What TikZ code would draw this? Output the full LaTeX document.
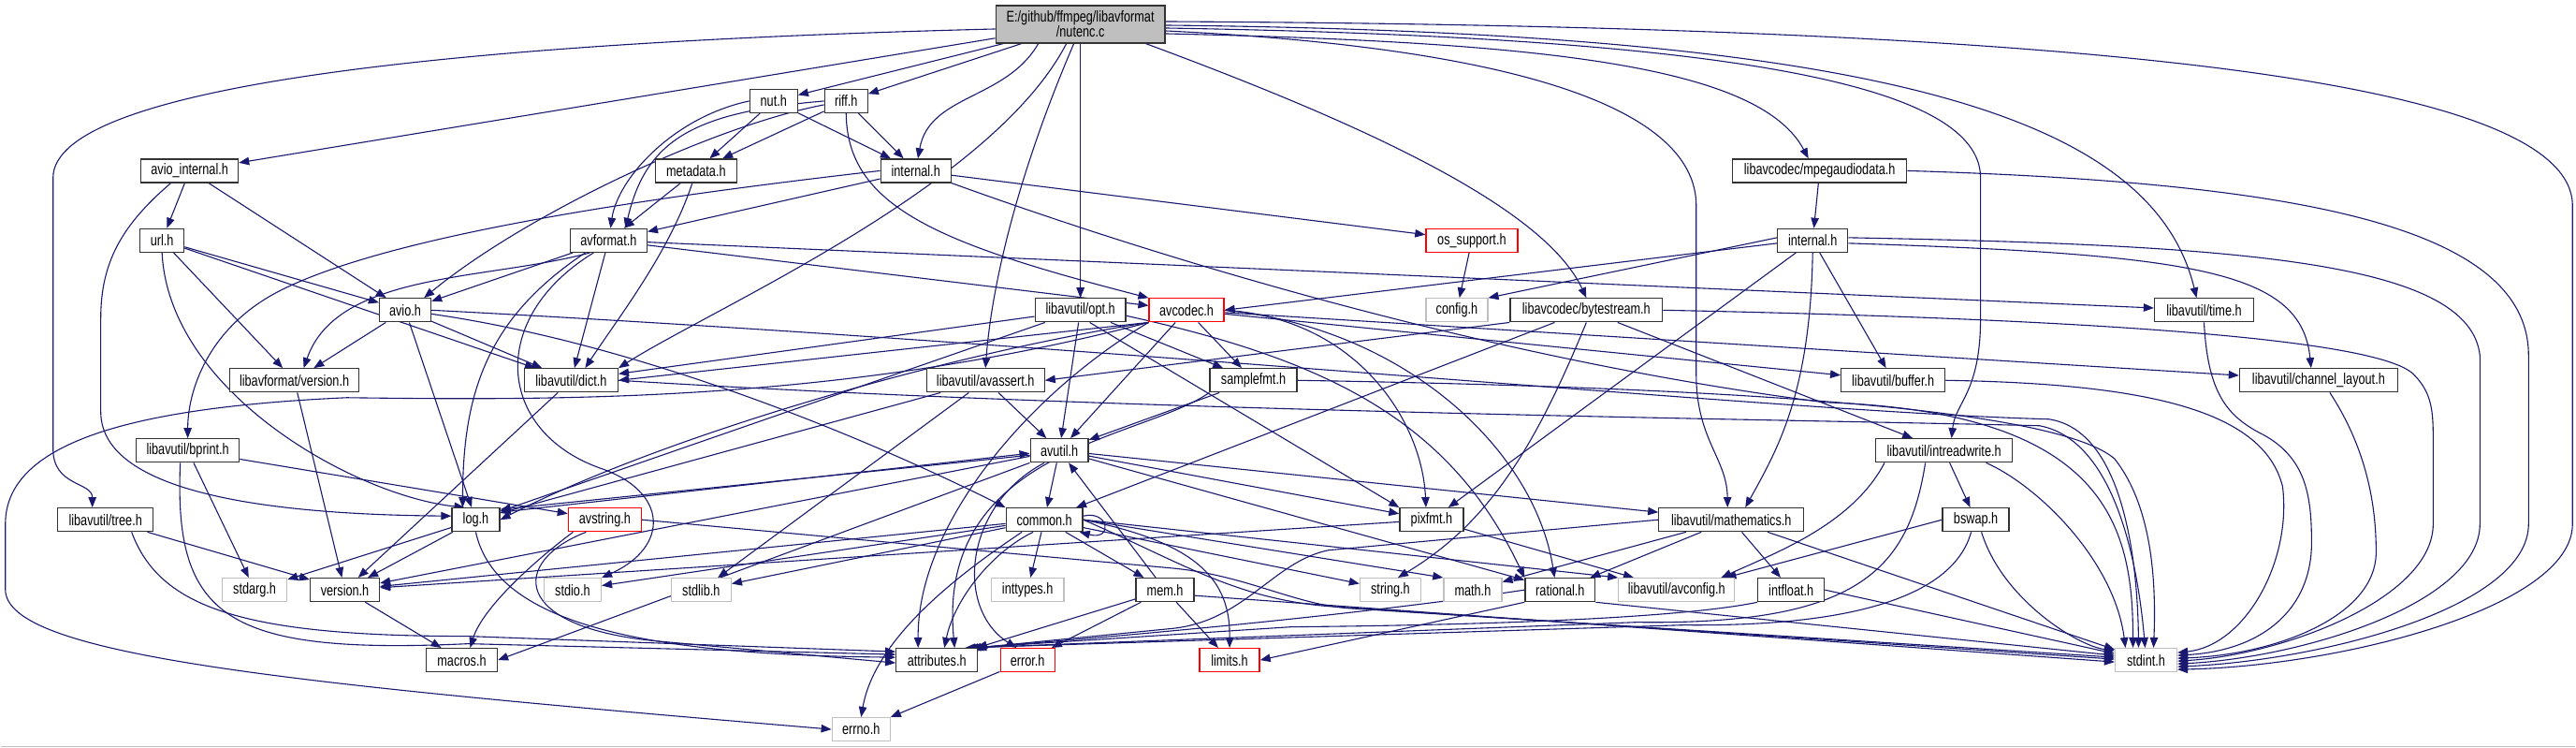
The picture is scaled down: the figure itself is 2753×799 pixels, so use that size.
\documentclass[tikz,border=0pt]{standalone}
\usepackage{fontspec}
\setmainfont{Liberation Sans}[FakeStretch=0.77]
\usetikzlibrary{arrows.meta}
\definecolor{edgec}{RGB}{25,25,112}
\definecolor{greyb}{RGB}{191,191,191}
\pgfdeclarelayer{back}
\pgfdeclarelayer{bg}
\pgfsetlayers{back,bg,main}
\begin{document}
\begin{tikzpicture}[x=1pt,y=-1pt,
  nd/.style={draw=black!80, line width=1.3pt, fill=white, minimum height=25pt, inner sep=0pt, font=\fontsize{16.5}{15.8}\selectfont},
  ndg/.style={nd, draw=greyb},
  ndr/.style={nd, draw=red},
  ed/.style={draw=edgec, line width=1.1pt, -{Triangle[length=11pt,width=8.5pt]}},
]
\begin{pgfonlayer}{back}
\fill[white] (0,0) rectangle (2753,799);
\draw[greyb, line width=1.5pt] (0,798) -- (2753,798);
\end{pgfonlayer}
\useasboundingbox (0,0) rectangle (2753,799);

% ---------------- nodes ----------------
\node[nd, fill=greyb, minimum width=181pt, minimum height=40pt, align=center] (main) at (1154.5,26) {E:/github/ffmpeg/libavformat\\/nutenc.c};
\node[nd, minimum width=104pt] (avioint) at (202,182.5) {avio\_internal.h};
\node[nd, minimum width=51pt] (nut) at (826.5,108) {nut.h};
\node[nd, minimum width=46pt] (riff) at (904,108) {riff.h};
\node[nd, minimum width=87pt] (metadata) at (743.5,182.5) {metadata.h};
\node[nd, minimum width=75pt] (internal) at (978.5,182.5) {internal.h};
\node[nd, minimum width=47pt] (url) at (172.5,257) {url.h};
\node[nd, minimum width=82pt] (avformat) at (650,257) {avformat.h};
\node[ndr, minimum width=98pt] (ossupport) at (1573,257) {os\_support.h};
\node[nd, minimum width=186pt] (mpegaudio) at (1945,182.5) {libavcodec/mpegaudiodata.h};
\node[nd, minimum width=75pt] (cinternal) at (1937.5,257) {internal.h};
\node[nd, minimum width=55pt] (avio) at (432.5,331.5) {avio.h};
\node[nd, minimum width=138pt] (lavfversion) at (314,406.5) {libavformat/version.h};
\node[nd, minimum width=100pt] (dict) at (610,406.5) {libavutil/dict.h};
\node[nd, minimum width=110pt] (bprint) at (200,481.5) {libavutil/bprint.h};
\node[nd, minimum width=97pt] (opt) at (1154.5,331.5) {libavutil/opt.h};
\node[ndr, minimum width=80pt] (avcodec) at (1268,331.5) {avcodec.h};
\node[nd, minimum width=126pt] (avassert) at (1053,406.5) {libavutil/avassert.h};
\node[nd, minimum width=93pt] (samplefmt) at (1339.5,406.5) {samplefmt.h};
\node[nd, minimum width=62pt] (avutil) at (1132,481.5) {avutil.h};
\node[ndg, minimum width=66pt] (config) at (1557,331.5) {config.h};
\node[nd, minimum width=163pt] (bytestream) at (1695.5,331.5) {libavcodec/bytestream.h};
\node[nd, minimum width=111pt] (buffer) at (2023.5,406.5) {libavutil/buffer.h};
\node[nd, minimum width=146pt] (intreadwrite) at (2078,481.5) {libavutil/intreadwrite.h};
\node[nd, minimum width=106pt] (time) at (2356,331.5) {libavutil/time.h};
\node[nd, minimum width=169pt] (chlayout) at (2478.5,406.5) {libavutil/channel\_layout.h};
\node[nd, minimum width=102pt] (tree) at (112,555.5) {libavutil/tree.h};
\node[nd, minimum width=51pt] (log) at (508,555.5) {log.h};
\node[ndr, minimum width=78pt] (avstring) at (646,555.5) {avstring.h};
\node[ndg, minimum width=69pt] (stdarg) at (271.5,630.5) {stdarg.h};
\node[nd, minimum width=74pt] (version) at (368,630.5) {version.h};
\node[ndg, minimum width=61pt] (stdio) at (611.5,630.5) {stdio.h};
\node[nd, minimum width=76pt] (macros) at (493,705.5) {macros.h};
\node[nd, minimum width=82pt] (common) at (1116,555.5) {common.h};
\node[ndg, minimum width=64pt] (stdlib) at (749,630.5) {stdlib.h};
\node[ndg, minimum width=78pt] (inttypes) at (1098,630.5) {inttypes.h};
\node[nd, minimum width=62pt] (mem) at (1245,630.5) {mem.h};
\node[nd, minimum width=87pt] (attributes) at (1001,705.5) {attributes.h};
\node[ndr, minimum width=58pt] (error) at (1098,705.5) {error.h};
\node[ndr, minimum width=64pt] (limits) at (1314,705.5) {limits.h};
\node[ndg, minimum width=62pt] (errno) at (920,779.5) {errno.h};
\node[nd, minimum width=68pt] (pixfmt) at (1530,555.5) {pixfmt.h};
\node[nd, minimum width=155pt] (mathematics) at (1850.5,555.5) {libavutil/mathematics.h};
\node[nd, minimum width=71pt] (bswap) at (2112,555.5) {bswap.h};
\node[ndg, minimum width=65pt] (string) at (1486,630.5) {string.h};
\node[ndg, minimum width=62pt] (math) at (1574,630.5) {math.h};
\node[nd, minimum width=75pt] (rational) at (1667.5,630.5) {rational.h};
\node[ndg, minimum width=124pt] (avconfig) at (1792,630.5) {libavutil/avconfig.h};
\node[nd, minimum width=71pt] (intfloat) at (1914.5,630.5) {intfloat.h};
\node[ndg, minimum width=66pt] (stdint) at (2294,705.5) {stdint.h};

% ---------------- edges ----------------
\begin{pgfonlayer}{bg}
% main
\draw[ed] ([yshift=-5pt]main.west) .. controls (500,45) and (56,90) .. (56,190) -- (56,480) .. controls (56,520) and (98,515) .. ([xshift=-14pt]tree.north);
\draw[ed] (main) -- (avioint);
\draw[ed] (main) -- (nut);
\draw[ed] (main) -- (riff);
\draw[ed] ([xshift=-45pt]main.south) to[out=-120,in=80] (internal);
\draw[ed] ([xshift=-15pt]main.south) .. controls (1060,200) and (760,330) .. (dict.north east);
\draw[ed] ([xshift=-7pt]main.south) .. controls (1090,180) and (1060,300) .. (avassert.north);
\draw[ed] (main.south) -- (opt.north);
\draw[ed] ([xshift=70pt]main.south) .. controls (1450,130) and (1650,220) .. (bytestream.north);
\draw[ed] ([yshift=-10pt]main.east) .. controls (1650,45) and (1880,70) .. ([xshift=-12pt]mpegaudio.north);
\draw[ed] ([yshift=-7pt]main.east) .. controls (1600,50) and (1813,110) .. (1813,220) -- (1813,400) .. controls (1813,470) and (1846,490) .. ([xshift=-4pt]mathematics.north);
\draw[ed] ([yshift=-4pt]main.east) .. controls (1850,40) and (2117,90) .. (2117,190) -- (2117,340) .. controls (2117,420) and (2090,430) .. ([xshift=8pt]intreadwrite.north);
\draw[ed] ([yshift=-1pt]main.east) .. controls (2000,35) and (2300,120) .. ([xshift=-8pt]time.north);
\draw[ed] ([yshift=3pt]main.east) .. controls (2200,28) and (2750,80) .. (2750,220) -- (2750,560) .. controls (2750,650) and (2500,712) .. ([yshift=-10pt]stdint.east);
% avio_internal
\draw[ed] (avioint) -- (url);
\draw[ed] (avioint) -- (avio);
\draw[ed] ([xshift=-20pt]avioint.south) .. controls (130,240) and (107,280) .. (107,340) -- (107,440) .. controls (107,530) and (300,550) .. ([yshift=4pt]log.west);
% url
\draw[ed] (url) -- (avio);
\draw[ed] (url) -- (lavfversion);
\draw[ed] (url) -- (dict);
\draw[ed] (url.south) .. controls (180,420) and (380,530) .. ([xshift=-12pt]log.north);
% nut
\draw[ed] (nut) -- (metadata);
\draw[ed] (nut) -- (internal);
\draw[ed] (nut.west) .. controls (720,125) and (660,190) .. ([xshift=2pt]avformat.north);
% riff
\draw[ed] (riff) -- (metadata);
\draw[ed] (riff) -- (internal);
\draw[ed] (riff.west) .. controls (740,120) and (690,150) .. ([xshift=18pt]avformat.north);
\draw[ed] ([yshift=-4pt]riff.west) .. controls (760,135) and (560,230) .. ([xshift=-8pt]avio.north east);
\draw[ed] (riff.south) .. controls (905,220) and (1000,260) .. (avcodec.north west);
% metadata
\draw[ed] (metadata) -- (avformat);
\draw[ed] ([xshift=-4pt]metadata.south) .. controls (715,270) and (660,340) .. ([xshift=15pt]dict.north);
% internal (lavf)
\draw[ed] (internal) -- (avformat);
\draw[ed] (internal.west) .. controls (700,210) and (420,250) .. (300,310) .. controls (220,350) and (200,420) .. (bprint.north);
\draw[ed] (internal) -- (ossupport);
\draw[ed] (internal.south east) .. controls (1250,280) and (1600,385) .. (1950,430) .. controls (2250,440) and (2280,560) .. ([xshift=-14pt]stdint.north);
% avformat
\draw[ed] (avformat) -- (avio);
\draw[ed] ([xshift=-20pt]avformat.south) .. controls (520,300) and (360,290) .. ([xshift=10pt]lavfversion.north);
\draw[ed] (avformat) -- (dict);
\draw[ed] ([xshift=-25pt]avformat.south) .. controls (520,340) and (494,420) .. ([xshift=-14pt]log.north);
\draw[ed] (avformat) -- (avcodec);
\draw[ed] (avformat) -- (time);
\draw[ed] ([xshift=-16pt]avformat.south) .. controls (520,340) and (530,460) .. (640,500) .. controls (715,525) and (715,585) .. (stdio.north east);
% avio
\draw[ed] (avio) -- (lavfversion);
\draw[ed] (avio) -- (dict);
\draw[ed] (avio) -- (log);
\draw[ed] (avio) .. controls (700,370) and (950,480) .. (common.north west);
\draw[ed] (avio.east) .. controls (1200,370) and (1900,440) .. (2190,448) .. controls (2270,460) and (2285,600) .. ([xshift=-8pt]stdint.north);
% os_support, mpegaudiodata
\draw[ed] (ossupport) -- (config);
\draw[ed] (mpegaudio) -- (cinternal);
\draw[ed] (mpegaudio.east) .. controls (2450,195) and (2703,240) .. (2703,380) -- (2703,560) .. controls (2703,650) and (2480,706) .. ([yshift=-7pt]stdint.east);
% internal (lavc)
\draw[ed] ([yshift=3pt]cinternal.west) -- (config.north east);
\draw[ed] ([yshift=-3pt]cinternal.west) -- (avcodec.east);
\draw[ed] (cinternal) -- (pixfmt);
\draw[ed] (cinternal.south) .. controls (1935,420) and (1900,480) .. ([xshift=15pt]mathematics.north);
\draw[ed] (cinternal) -- (buffer);
\draw[ed] ([yshift=-3pt]cinternal.east) .. controls (2350,272) and (2460,290) .. ([xshift=-8pt]chlayout.north);
\draw[ed] ([yshift=3pt]cinternal.east) .. controls (2400,262) and (2640,280) .. (2651,380) -- (2651,560) .. controls (2651,645) and (2460,703) .. ([yshift=-4pt]stdint.east);
% bytestream
\draw[ed] (bytestream) -- (common);
\draw[ed] (bytestream.south) .. controls (1640,480) and (1590,560) .. ([xshift=8pt]string.north);
\draw[ed] (bytestream.south west) -- (avassert.east);
\draw[ed] (bytestream) -- (intreadwrite);
\draw[ed] (bytestream.east) .. controls (2200,340) and (2540,360) .. (2580,400) .. controls (2600,420) and (2601,440) .. (2601,470) -- (2601,560) .. controls (2601,640) and (2440,700) .. ([yshift=-1pt]stdint.east);
% opt
\draw[ed] (opt) -- (avutil);
\draw[ed] (opt) -- (dict);
\draw[ed] (opt) -- (log);
\draw[ed] ([xshift=10pt]opt.south) -- (pixfmt.north west);
\draw[ed] ([yshift=-6pt]opt.east) .. controls (1420,385) and (1550,450) .. (rational.north west);
\draw[ed] (opt) -- (samplefmt);
% avcodec
\draw[ed] (avcodec) -- (avutil);
\draw[ed] (avcodec) -- (samplefmt);
\draw[ed] (avcodec.south west) -- (dict.east);
\draw[ed] (avcodec.south west) .. controls (1000,380) and (700,470) .. (log.east);
\draw[ed] (avcodec.south west) .. controls (900,430) and (600,428) .. (370,425) .. controls (150,435) and (5,470) .. (5,560) -- (5,630) .. controls (5,700) and (300,730) .. (errno.west);
\draw[ed] (avcodec.south west) .. controls (1100,420) and (980,560) .. ([xshift=-20pt]attributes.north);
\draw[ed] (avcodec.east) .. controls (1450,340) and (1520,450) .. ([xshift=-6pt]pixfmt.north);
\draw[ed] (avcodec.east) .. controls (1500,350) and (1640,480) .. ([xshift=-6pt]rational.north);
\draw[ed] (avcodec) -- (buffer);
\draw[ed] (avcodec) -- (chlayout);
% samplefmt
\draw[ed] (samplefmt) -- (avutil);
\draw[ed] (samplefmt.south west) .. controls (1220,470) and (1000,480) .. ([xshift=19pt]attributes.north);
\draw[ed] (samplefmt.east) .. controls (1900,415) and (2200,440) .. (2260,490) .. controls (2300,540) and (2305,620) .. ([xshift=8pt]stdint.north);
% avassert
\draw[ed] (avassert) -- (avutil);
\draw[ed] (avassert) -- (stdlib);
\draw[ed] (avassert) -- (log);
% dict
\draw[ed] (dict) -- (version);
\draw[ed] (dict.east) .. controls (1200,440) and (1900,448) .. (2180,455) .. controls (2260,470) and (2285,600) .. ([xshift=-1pt]stdint.north);
% bprint
\draw[ed] (bprint) -- (stdarg);
\draw[ed] (bprint) -- (avstring);
\draw[ed] ([xshift=-8pt]bprint.south) .. controls (185,660) and (240,700) .. (500,688) -- ([yshift=6pt]attributes.west);
% tree
\draw[ed] (tree) -- (version);
\draw[ed] ([xshift=28pt]tree.south) .. controls (170,650) and (260,680) .. (500,680) -- ([yshift=9pt]attributes.west);
% log
\draw[ed] (log) -- (stdarg);
\draw[ed] (log) -- (version);
\draw[ed] ([yshift=8pt]log.east) -- ([yshift=-3pt]avutil.west);
\draw[ed] (log.south) .. controls (530,670) and (700,700) .. ([yshift=3pt]attributes.west);
% avutil
\draw[ed] ([yshift=-5pt]avutil.west) -- ([yshift=11pt]log.east);
\draw[ed] (avutil) -- (common);
\draw[ed] ([xshift=-16pt]avutil.south) .. controls (1030,540) and (1020,650) .. ([xshift=-12pt]error.north);
\draw[ed] (avutil) -- (rational);
\draw[ed] (avutil) -- (version);
\draw[ed] (avutil.south west) -- (macros.east);
\draw[ed] (avutil) -- (mathematics);
\draw[ed] (avutil) -- (pixfmt);
% avstring
\draw[ed] ([xshift=-34pt]avstring.south) .. controls (570,600) and (515,650) .. ([xshift=9pt]macros.north);
\draw[ed] ([xshift=-20pt]avstring.south) .. controls (545,600) and (545,670) .. (700,685) -- ([yshift=-3pt]attributes.west);
\draw[ed] (avstring.east) -- (1250,607) .. controls (1330,614) and (1380,645) .. (1440,650) -- ([yshift=3pt]stdint.west);
% common
\draw[ed] ([xshift=-24pt]common.south) .. controls (1030,610) and (935,680) .. (errno.north);
\draw[ed] (common) -- (inttypes);
\draw[ed] (common.east) .. controls (1280,580) and (1315,620) .. (limits.north);
\draw[ed] ([xshift=-12pt]common.south) .. controls (1060,590) and (1020,640) .. ([xshift=8pt]attributes.north);
\draw[ed] (common) -- (stdlib);
\draw[ed] (common) -- (stdio);
\draw[ed] (common) -- (string);
\draw[ed] (common.east) -- (math.north west);
\draw[ed] (common.east) -- (avconfig.north west);
\draw[ed] (common) -- (version);
\draw[ed] (common.east) .. controls (1260,600) and (1320,640) .. (1420,648) -- ([yshift=1pt]stdint.west);
\draw[ed] (common) -- (mem);
\draw[ed] ([yshift=4pt]common.east) .. controls (1185,545) and (1190,578) .. ([xshift=-4pt]common.south east);
% mem
\draw[ed] (mem) -- (attributes);
\draw[ed] (mem) -- (error);
\draw[ed] (mem) -- (limits);
\draw[ed] ([yshift=-6pt]mem.east) -- ([yshift=-2pt]stdint.west);
\draw[ed] (mem) -- (avutil);
% pixfmt
\draw[ed] (pixfmt) -- (avconfig);
\draw[ed] (pixfmt) -- (version);
% mathematics
\draw[ed] (mathematics) -- (math);
\draw[ed] (mathematics) -- (rational);
\draw[ed] (mathematics) -- (intfloat);
\draw[ed] (mathematics) -- (stdint);
\draw[ed] (mathematics.west) -- (1420,588) .. controls (1360,600) and (1330,665) .. (1250,672) -- ([xshift=-2pt]attributes.north east);
% rational
\draw[ed] (rational.west) .. controls (1500,650) and (1300,672) .. ([xshift=-5pt]attributes.north east);
\draw[ed] (rational.south west) -- (limits.east);
\draw[ed] (rational.south east) -- ([yshift=5pt]stdint.west);
% intfloat
\draw[ed] (intfloat.east) -- ([yshift=7pt]stdint.west);
\draw[ed] (intfloat.south west) .. controls (1800,660) and (1600,668) .. (1380,670) -- ([xshift=-8pt]attributes.north east);
% intreadwrite
\draw[ed] (intreadwrite) -- (bswap);
\draw[ed] ([xshift=10pt]intreadwrite.south west) .. controls (1980,560) and (1900,590) .. ([xshift=-15pt]avconfig.north east);
\draw[ed] ([xshift=-20pt]intreadwrite.south) .. controls (2040,610) and (1985,668) .. (1750,665) -- ([xshift=-11pt]attributes.north east);
\draw[ed] ([xshift=45pt]intreadwrite.south) .. controls (2180,520) and (2260,600) .. ([xshift=-22pt]stdint.north);
% bswap
\draw[ed] (bswap.west) -- ([xshift=-10pt]avconfig.north east);
\draw[ed] ([xshift=6pt]bswap.south) .. controls (2140,640) and (2220,690) .. ([yshift=10pt]stdint.west);
\draw[ed] ([xshift=-5pt]bswap.south) .. controls (2090,630) and (2000,670) .. (1800,668) -- ([xshift=-14pt]attributes.north east);
% right-hand group into stdint
\draw[ed] (time.south) .. controls (2360,420) and (2380,445) .. (2420,465) .. controls (2465,490) and (2471,530) .. (2471,580) .. controls (2471,650) and (2420,695) .. ([yshift=5pt]stdint.east);
\draw[ed] (buffer.east) .. controls (2300,410) and (2420,440) .. (2440,520) .. controls (2450,600) and (2400,690) .. ([yshift=8pt]stdint.east);
\draw[ed] ([xshift=12pt]chlayout.south) .. controls (2530,480) and (2540,540) .. (2540,590) .. controls (2540,660) and (2430,700) .. ([yshift=2pt]stdint.east);
% small ones
\draw[ed] (version) -- (macros);
\draw[ed] (error) -- (errno);
\draw[ed] (lavfversion) -- (version);
\end{pgfonlayer}
\end{tikzpicture}
\end{document}
